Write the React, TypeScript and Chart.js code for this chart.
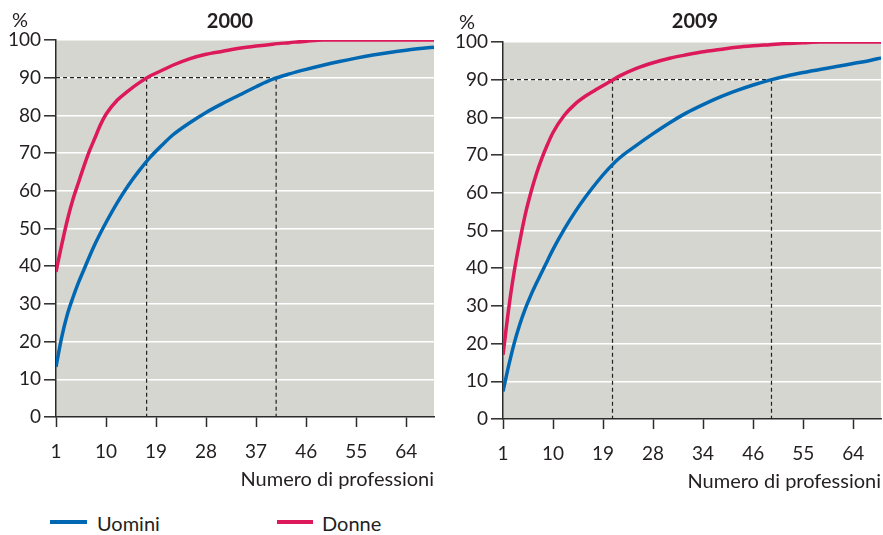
import React, { useEffect, useRef } from "react";
import { Chart, registerables } from "chart.js";

Chart.register(...registerables);

// ---- data ----
const professions = [1, 2, 3, 4, 5, 6, 7, 8, 9, 10, 12, 14, 16, 18, 20, 22, 25, 28, 31, 34, 37, 40, 43, 46, 49, 52, 55, 58, 61, 64, 67, 69];

const uomini2000 = [13.3, 21, 27, 31.5, 35.5, 39, 42.5, 45.8, 48.8, 51.6, 56.8, 61.4, 65.4, 69, 72, 74.8, 78, 80.8, 83.2, 85.4, 87.6, 89.6, 91, 92.2, 93.3, 94.3, 95.2, 96, 96.7, 97.3, 97.8, 98.1];
const donne2000 = [38.5, 45.5, 52, 57.5, 62, 66.4, 70.5, 74, 77.5, 80.3, 84, 86.5, 88.7, 90.5, 91.9, 93.3, 95, 96.2, 97, 97.8, 98.4, 98.9, 99.3, 99.7, 100, 100, 100, 100, 100, 100, 100, 100];

const uomini2009 = [7.3, 14, 20, 25, 29.2, 32.8, 36, 39, 42, 45, 50.3, 55, 59.2, 63, 66.4, 69.3, 72.6, 75.7, 78.6, 81.2, 83.4, 85.4, 87.1, 88.6, 89.9, 91, 91.9, 92.7, 93.5, 94.3, 95.1, 95.8];
const donne2009 = [17, 29, 39, 47, 54.2, 60, 65, 69.2, 72.8, 76, 80.5, 83.6, 85.8, 87.6, 89.3, 91, 93, 94.5, 95.7, 96.6, 97.4, 98, 98.6, 99, 99.3, 99.6, 99.8, 100, 100, 100, 100, 100];

const tickPositions = [1, 10, 19, 28, 37, 46, 55, 64];
const tickLabels2000 = ["1", "10", "19", "28", "37", "46", "55", "64"];
const tickLabels2009 = ["1", "10", "19", "28", "34", "46", "55", "64"];
const yTicks = [0, 10, 20, 30, 40, 50, 60, 70, 80, 90, 100];

const threshold = 90;
const crossings2000 = [17.3, 40.6]; // Donne, Uomini reach 90%
const crossings2009 = [20.7, 49.3];

const xMin = 1;
const xMax = 69;

const FONT = "Lato, 'Open Sans', sans-serif";
const TEXT = "#231f20";
const AXIS = "#2b2b2b";
const BLUE = "#0068b2";
const PINK = "#dc195a";
const PLOT_BG = "#d6d6d0";

const bgPlugin = {
  id: "plotBg",
  beforeDraw(chart: any) {
    const { ctx, chartArea } = chart;
    const { left, top, right, bottom } = chartArea;
    ctx.save();
    ctx.fillStyle = PLOT_BG;
    ctx.fillRect(left, top, right - left, bottom - top);
    ctx.restore();
  },
};

const textPlugin = {
  id: "overlayText",
  afterDraw(chart: any, _args: any, opts: any) {
    const ctx = chart.ctx;
    ctx.save();
    ctx.fillStyle = TEXT;
    ctx.textBaseline = "middle";
    ctx.textAlign = "center";
    ctx.font = `bold 20px ${FONT}`;
    ctx.fillText(opts.title, opts.titleX, opts.titleY);
    ctx.font = `20px ${FONT}`;
    ctx.fillText("%", opts.pctX, opts.pctY);
    ctx.restore();
  },
};

function makeConfig(
  title: string,
  uomini: number[],
  donne: number[],
  labels: string[],
  crossings: number[],
  titleX: number,
  titleY: number,
  padRight: number
): any {
  const pts = (vals: number[]) => professions.map((x, i) => ({ x, y: vals[i] }));
  const refStyle = {
    borderColor: "#222",
    borderWidth: 1.2,
    borderDash: [4, 3],
    pointRadius: 0,
    fill: false,
    order: 5,
  };
  const farthest = Math.max(...crossings);
  const refSets = [
    { ...refStyle, label: "ref-h", data: [{ x: xMin, y: threshold }, { x: farthest, y: threshold }] },
    ...crossings.map((c, k) => ({
      ...refStyle,
      label: "ref-v" + k,
      data: [{ x: c, y: threshold }, { x: c, y: 0 }],
    })),
  ];
  return {
    type: "line",
    data: {
      datasets: [
        {
          label: "Uomini",
          data: pts(uomini),
          borderColor: BLUE,
          borderWidth: 3.5,
          pointRadius: 0,
          fill: false,
          cubicInterpolationMode: "monotone",
          order: 1,
        },
        {
          label: "Donne",
          data: pts(donne),
          borderColor: PINK,
          borderWidth: 3.5,
          pointRadius: 0,
          fill: false,
          cubicInterpolationMode: "monotone",
          order: 0,
        },
        ...refSets,
      ],
    },
    options: {
      animation: false,
      responsive: false,
      devicePixelRatio: 1,
      layout: { padding: { left: 0, top: 40, right: padRight, bottom: 0 } },
      plugins: {
        legend: { display: false },
        tooltip: { enabled: false },
        title: { display: false },
        overlayText: { title, titleX, titleY, pctX: 20, pctY: 21 },
      },
      scales: {
        x: {
          type: "linear",
          min: xMin,
          max: xMax,
          afterBuildTicks: (s: any) => {
            s.ticks = tickPositions.map((v) => ({ value: v }));
          },
          afterFit: (s: any) => {
            s.height = 83;
          },
          ticks: {
            autoSkip: false,
            maxRotation: 0,
            padding: 13,
            color: TEXT,
            font: { family: FONT, size: 19 },
            callback: (v: number) => labels[tickPositions.indexOf(v)],
          },
          grid: {
            drawOnChartArea: false,
            drawTicks: true,
            tickLength: 10,
            tickColor: AXIS,
            tickWidth: 1.5,
          },
          border: { display: true, color: AXIS, width: 1.5 },
          title: {
            display: true,
            text: "Numero di professioni",
            align: "end",
            color: TEXT,
            font: { family: FONT, size: 20 },
            padding: { top: 0, bottom: 8 },
          },
        },
        y: {
          type: "linear",
          min: 0,
          max: 100,
          afterBuildTicks: (s: any) => {
            s.ticks = yTicks.map((v) => ({ value: v }));
          },
          afterFit: (s: any) => {
            s.width = 56;
          },
          ticks: {
            padding: 3,
            color: TEXT,
            font: { family: FONT, size: 19 },
          },
          grid: {
            color: (c: any) => (c.tick && c.tick.value === 0 ? "rgba(0,0,0,0)" : "#ffffff"),
            lineWidth: 1.6,
            drawTicks: true,
            tickLength: 12,
            tickColor: AXIS,
            tickWidth: 1.5,
          },
          border: { display: true, color: AXIS, width: 1.5 },
        },
      },
    },
    plugins: [bgPlugin, textPlugin],
  };
}

function ChartCanvas(props: { config: () => any; left: number; top: number; width: number; height: number }) {
  const ref = useRef<HTMLCanvasElement | null>(null);
  useEffect(() => {
    if (!ref.current) return;
    const chart = new Chart(ref.current, props.config());
    return () => chart.destroy();
  }, []);
  return (
    <canvas
      ref={ref}
      width={props.width}
      height={props.height}
      style={{ position: "absolute", left: props.left, top: props.top, width: props.width, height: props.height }}
    />
  );
}

export default function App() {
  return (
    <div style={{ position: "absolute", left: 0, top: 0, width: 883, height: 535, background: "#fff", overflow: "hidden" }}>
      <ChartCanvas
        left={0}
        top={0}
        width={440}
        height={500}
        config={() => makeConfig("2000", uomini2000, donne2000, tickLabels2000, crossings2000, 230, 22, 6)}
      />
      <ChartCanvas
        left={447}
        top={2}
        width={436}
        height={500}
        config={() => makeConfig("2009", uomini2009, donne2009, tickLabels2009, crossings2009, 248, 20, 2)}
      />
      <div style={{ position: "absolute", left: 50, top: 520, width: 37, height: 4, background: BLUE }} />
      <div style={{ position: "absolute", left: 97, top: 510, font: `20px ${FONT}`, color: TEXT, lineHeight: "26px" }}>Uomini</div>
      <div style={{ position: "absolute", left: 277, top: 520, width: 36, height: 4, background: PINK }} />
      <div style={{ position: "absolute", left: 322, top: 510, font: `20px ${FONT}`, color: TEXT, lineHeight: "26px" }}>Donne</div>
    </div>
  );
}
